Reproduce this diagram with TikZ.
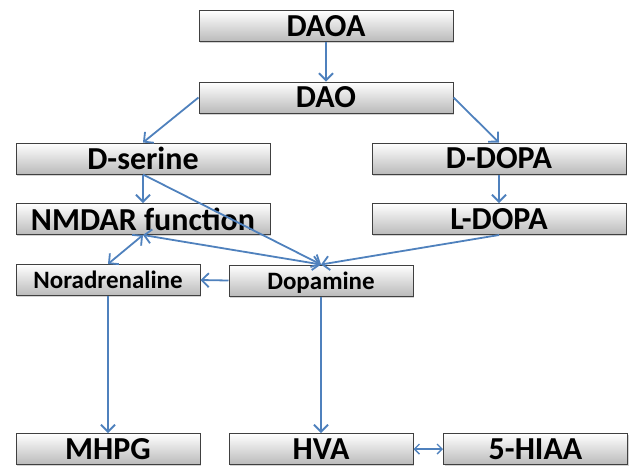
\documentclass[tikz,border=0pt]{standalone}
\usepackage{fontspec}
\setmainfont{Carlito}
\usetikzlibrary{arrows.meta,shadows}
\definecolor{linkblue}{RGB}{79,129,189}

\begin{document}
\begin{tikzpicture}[x=1pt,y=-1pt,
    box/.style={draw=black!75,line width=1pt,top color=white,bottom color=black!27,
      minimum height=31pt,inner sep=0pt,font=\bfseries\fontsize{32}{32}\selectfont,
      drop shadow={shadow xshift=1pt,shadow yshift=-1.5pt,opacity=0.35}},
    wide/.style={box,minimum width=254pt},
    short/.style={box,minimum width=184pt},
    smalltext/.style={font=\bfseries\fontsize{25}{25}\selectfont},
    link/.style={draw=linkblue,line width=1.8pt,-{Straight Barb[length=7pt,width=14pt]}},
    twoway/.style={draw=linkblue,line width=1.8pt,{Straight Barb[length=7pt,width=14pt]}-{Straight Barb[length=7pt,width=14pt]}},
    tinyway/.style={draw=linkblue,line width=1.4pt,{Straight Barb[length=5pt,width=10pt]}-{Straight Barb[length=5pt,width=10pt]}}]
      \useasboundingbox (0,0) rectangle (629,467);

      \node [wide] (daoa) at (326,26) {DAOA};
      \node [wide] (dao) at (326,97.5) {DAO};
      \node [wide] (dserine) at (143,158.5) {D-serine};
      \node [wide] (ddopa) at (499,158.5) {D-DOPA};
      \node [wide] (nmdar) at (143,219) {NMDAR function};
      \node [wide] (ldopa) at (499,219) {L-DOPA};
      \node [short,smalltext] (noradr) at (108,280) {Noradrenaline};
      \node [short,smalltext,text height=20pt,text depth=1.5pt] (dopamine) at (321,280.5) {Dopamine};
      \node [short] (mhpg) at (108,449) {MHPG};
      \node [short] (hva) at (321,449) {HVA};
      \node [short] (hiaa) at (535.5,449) {5-HIAA};

      \draw[link] (daoa) -- (dao);
      \draw[link] (dao.west) -- (dserine.north);
      \draw[link] (dao.east) -- (ddopa.north);
      \draw[link] (dserine) -- (nmdar);
      \draw[link] (dserine.south) -- (dopamine.north);
      \draw[link] (ddopa) -- (ldopa);
      \draw[link] (ldopa.south) -- (dopamine.north);
      \draw[twoway] (nmdar.south) -- (dopamine.north);
      \draw[twoway] (nmdar.south) -- (noradr.north);
      \draw[link] (dopamine.west) -- (noradr.east);
      \draw[link] (noradr) -- (mhpg);
      \draw[link] (dopamine) -- (hva);
      \draw[tinyway] (hva) -- (hiaa);
    \end{tikzpicture}
\end{document}
